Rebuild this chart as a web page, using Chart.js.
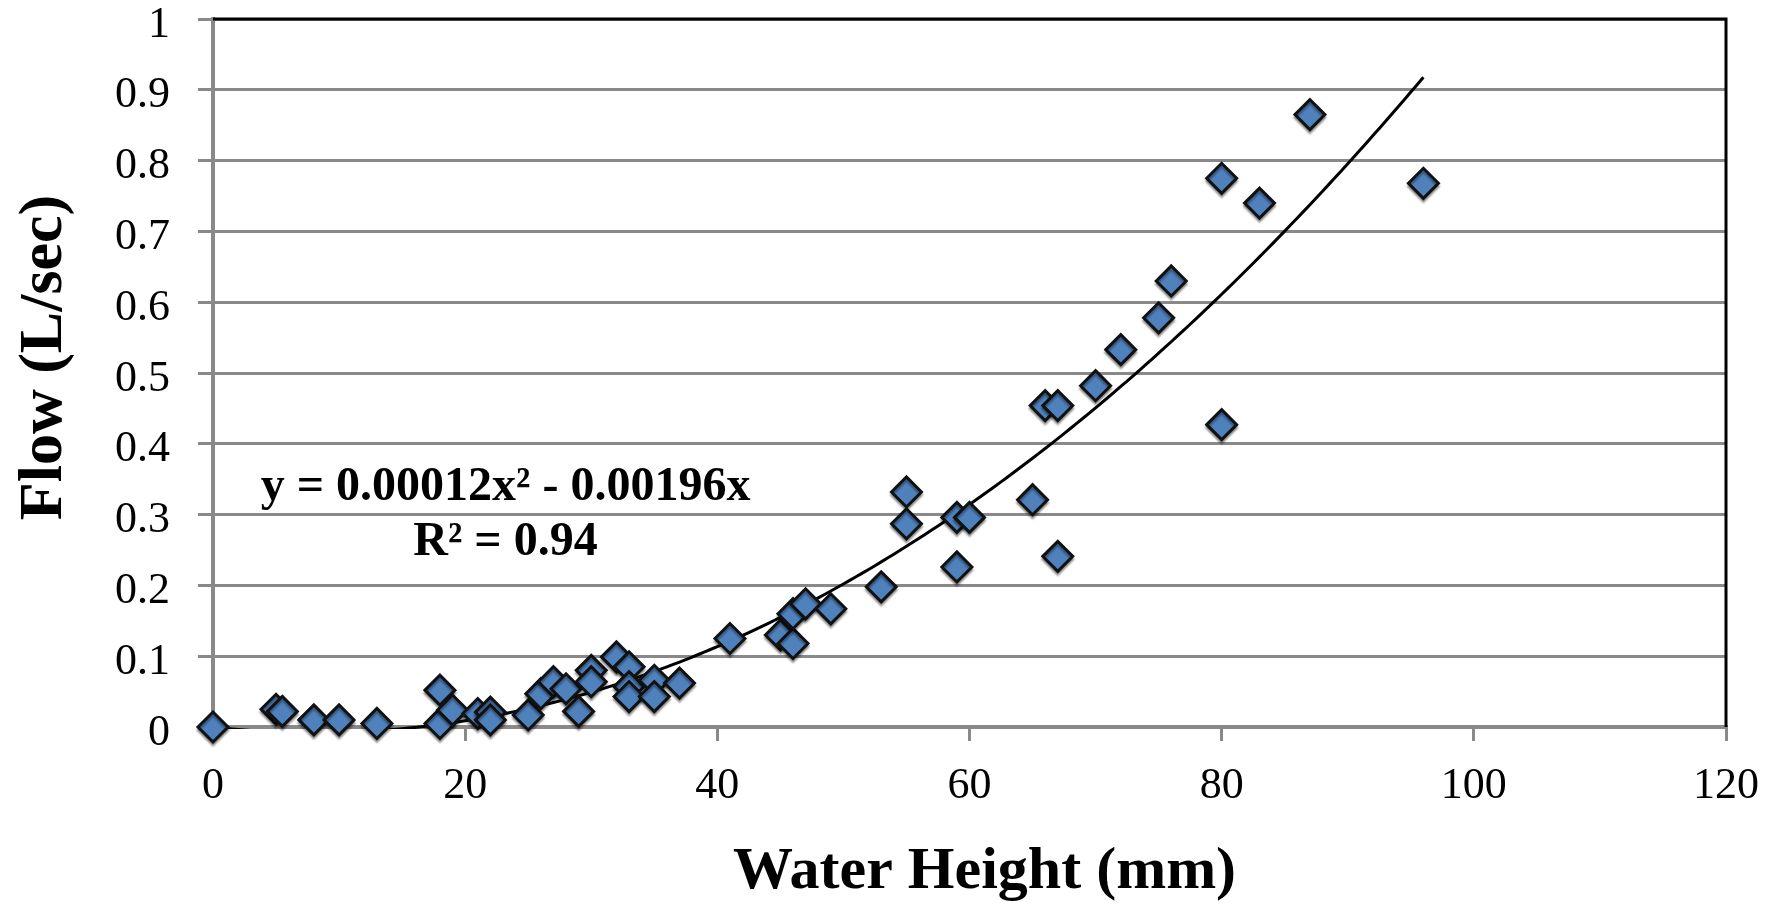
<!DOCTYPE html>
<html>
<head>
<meta charset="utf-8">
<script src="https://cdn.jsdelivr.net/npm/chart.js@4/dist/chart.umd.min.js"></script>
<style>
  html, body { margin: 0; padding: 0; background: #fff; }
  #wrap { width: 1779px; height: 910px; }
</style>
</head>
<body>
<div id="wrap"><canvas id="c" width="1779" height="910"></canvas></div>
<script>
// ---- data ----
const waterHeight = [0, 5, 5.5, 8, 10, 13, 18, 18, 19, 21, 22, 22, 25, 26, 27, 28, 29, 30, 30, 32, 33, 33, 33, 35, 35, 37, 41, 45, 46, 46, 47, 49, 53, 55, 55, 59, 59, 60, 65, 66, 67, 67, 70, 72, 75, 76, 80, 80, 83, 87, 96];
const flow        = [0, 0.025, 0.022, 0.01, 0.01, 0.005, 0.052, 0.005, 0.024, 0.019, 0.021, 0.01, 0.017, 0.047, 0.064, 0.054, 0.022, 0.08, 0.064, 0.099, 0.085, 0.057, 0.043, 0.066, 0.043, 0.062, 0.125, 0.13, 0.118, 0.16, 0.174, 0.167, 0.198, 0.332, 0.287, 0.296, 0.226, 0.296, 0.321, 0.454, 0.454, 0.241, 0.482, 0.533, 0.578, 0.63, 0.775, 0.427, 0.74, 0.865, 0.768];
// trendline y = a*x^2 + b*x + c (as printed on the chart)
const trendCoefficients = [0.00012, -0.00196, 0];
const trendRange = [0, 96];
const equationLines = ['y = 0.00012x\u00B2 - 0.00196x', 'R\u00B2 = 0.94'];
const equationAnchor = [23.2, 0.32];   // (x, y) in data units for first line baseline
const xTickValues = [0, 20, 40, 60, 80, 100, 120];
const yTickLabels = ['0', '0.1', '0.2', '0.3', '0.4', '0.5', '0.6', '0.7', '0.8', '0.9', '1'];
const xAxisTitle = 'Water Height (mm)';
const yAxisTitle = 'Flow (L/sec)';

// ---- build datasets ----
const points = waterHeight.map((x, i) => ({ x: x, y: flow[i] }));
const trend = [];
for (let x = trendRange[0]; x <= trendRange[1] + 1e-9; x += 0.5) {
  trend.push({ x: x, y: trendCoefficients[0] * x * x + trendCoefficients[1] * x + trendCoefficients[2] });
}

const FONT = '"Liberation Serif", "Times New Roman", serif';
const GRID = '#898989';

const framePlugin = {
  id: 'frameAndEquation',
  beforeDatasetDraw(chart, args) {
    if (args.index === 0) {
      const ctx = chart.ctx;
      ctx.save();
      ctx.shadowColor = 'rgba(0,0,0,0.35)';
      ctx.shadowOffsetX = 0;
      ctx.shadowOffsetY = 3;
      ctx.shadowBlur = 2;
    }
  },
  afterDatasetDraw(chart, args) {
    if (args.index === 0) chart.ctx.restore();
  },
  afterDatasetsDraw(chart) {
    const { ctx, chartArea: a, scales } = chart;
    ctx.save();
    ctx.strokeStyle = '#000';
    ctx.lineWidth = 3;
    ctx.beginPath();
    ctx.moveTo(a.left, a.top);
    ctx.lineTo(a.right, a.top);
    ctx.lineTo(a.right, a.bottom);
    ctx.stroke();

    ctx.fillStyle = '#000';
    ctx.textAlign = 'center';
    ctx.textBaseline = 'alphabetic';
    ctx.font = 'bold 48px ' + FONT;
    const cx = scales.x.getPixelForValue(equationAnchor[0]);
    const cy = scales.y.getPixelForValue(equationAnchor[1]);
    ctx.fillText(equationLines[0], cx, cy);
    ctx.fillText(equationLines[1], cx, cy + 55);
    ctx.restore();
  }
};

new Chart(document.getElementById('c'), {
  type: 'scatter',
  data: {
    datasets: [
      {
        label: 'Flow',
        data: points,
        pointStyle: 'rectRot',
        pointRadius: 15,
        pointHoverRadius: 15,
        pointBackgroundColor: '#4F81BD',
        pointBorderColor: '#111111',
        pointBorderWidth: 3,
        showLine: false,
        clip: false,
        order: 1
      },
      {
        label: 'Trend',
        type: 'line',
        data: trend,
        borderColor: '#000',
        borderWidth: 3,
        pointRadius: 0,
        fill: false,
        tension: 0,
        clip: { left: 5, right: 5, top: 5, bottom: 2 },
        order: 2
      }
    ]
  },
  options: {
    responsive: false,
    animation: false,
    events: [],
    layout: { padding: { top: 19, right: 53, bottom: 0, left: 0 } },
    plugins: {
      legend: { display: false },
      tooltip: { enabled: false }
    },
    scales: {
      x: {
        type: 'linear',
        min: 0,
        max: 120,
        afterFit(s) { s.height = 183; s.paddingLeft = 0; s.paddingRight = 0; },
        afterBuildTicks(s) { s.ticks = xTickValues.map(v => ({ value: v })); },
        grid: {
          drawOnChartArea: false,
          drawTicks: true,
          tickLength: 14,
          color: GRID,
          lineWidth: 3
        },
        border: { display: true, color: GRID, width: 4 },
        ticks: {
          padding: 19,
          color: '#000',
          font: { family: FONT, size: 44 },
          callback: v => String(v)
        },
        title: {
          display: true,
          text: '\u2002' + xAxisTitle,
          color: '#000',
          font: { family: FONT, size: 60, weight: 'bold' },
          padding: { top: 0, bottom: 2 }
        }
      },
      y: {
        type: 'linear',
        min: 0,
        max: 1,
        afterFit(s) { s.width = 213; s.paddingTop = 0; s.paddingBottom = 0; },
        ticks: {
          stepSize: 0.1,
          padding: 28,
          labelOffset: 6,
          color: '#000',
          font: { family: FONT, size: 44 },
          callback: (v, i) => yTickLabels[i]
        },
        grid: {
          drawOnChartArea: true,
          drawTicks: true,
          tickLength: 15,
          color: GRID,
          lineWidth: 3
        },
        border: { display: true, color: GRID, width: 4 },
        title: {
          display: true,
          text: '\u2002' + yAxisTitle,
          color: '#000',
          font: { family: FONT, size: 62, weight: 'bold' },
          padding: { top: 8, bottom: 0 }
        }
      }
    }
  },
  plugins: [framePlugin]
});
</script>
</body>
</html>
